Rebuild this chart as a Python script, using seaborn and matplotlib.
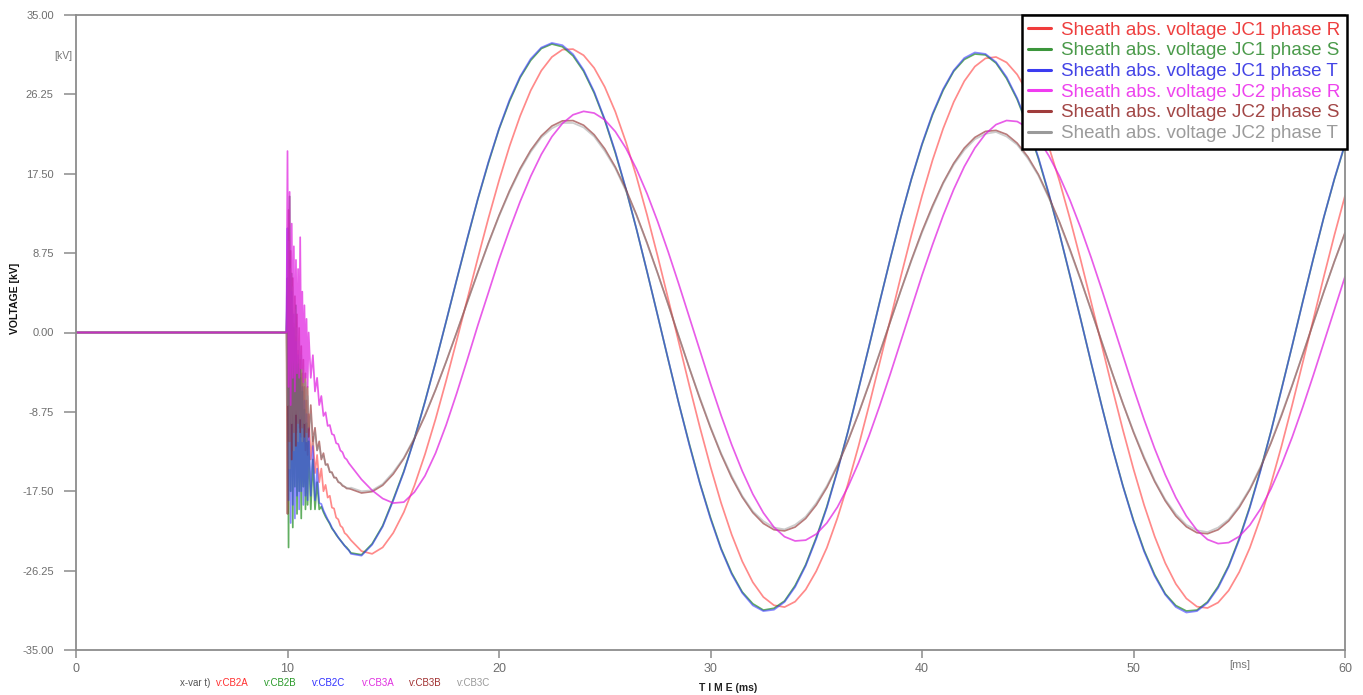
import numpy as np
import pandas as pd
import matplotlib
matplotlib.use("Agg")
import matplotlib.pyplot as plt
from matplotlib.lines import Line2D
import seaborn as sns

# ---------------- data (kV vs ms) ----------------
time_prefault = [0.0, 9.95]
time_transient = np.round(np.concatenate([np.arange(10.0, 11.0001, 0.05),
                                          np.arange(11.1, 12.9001, 0.1)]), 2)
time_steady = np.round(np.arange(13.0, 60.0001, 0.5), 2)

prefault = [0.0, 0.0]

jc1_r_transient = [4.0, -12.0, 6.0, -14.0, 2.5, -13.0, 1.0, -12.5, -0.5, -11.0, -2.0, -10.5, -3.0, -11.5,
                   -4.5, -12.0, -6.0, -13.0, -7.5, -13.5, -9.0,
                   -14.0, -11.5, -15.5, -13.5, -16.5, -15.0, -17.5, -16.8, -18.2, -18.0, -19.3, -19.4,
                   -20.4, -20.6, -21.3, -21.5, -22.1, -22.3, -22.6]
jc1_s_transient = [6.0, -23.7, 15.0, -17.5, 6.5, -21.5, 0.5, -17.0, 3.0, -20.0, -3.5, -17.5, -5.0, -20.5,
                   -6.5, -17.0, -8.5, -19.5, -10.0, -19.0, -12.0,
                   -19.5, -14.0, -19.5, -16.5, -19.5, -19.2, -19.8, -20.3, -20.7, -21.1, -21.6, -21.9,
                   -22.3, -22.6, -22.9, -23.2, -23.5, -23.7, -24.0]
jc1_t_transient = [11.5, -18.5, 8.0, -21.0, 4.5, -19.0, 2.0, -20.5, -1.0, -18.0, -2.5, -19.5, -4.0, -17.5,
                   -6.0, -19.0, -7.5, -18.0, -9.0, -18.5, -10.5,
                   -18.0, -12.5, -18.5, -15.0, -18.8, -18.9, -19.6, -20.1, -20.6, -21.0, -21.5, -21.9,
                   -22.2, -22.6, -22.9, -23.2, -23.5, -23.8, -24.0]
jc2_r_transient = [20.0, -6.0, 15.5, -8.0, 12.0, -5.0, 9.5, -6.5, 8.0, -4.5, 7.0, -5.0, 10.5, -4.0,
                   4.5, -5.5, 3.0, -5.0, 1.5, -6.0, 0.0,
                   -5.0, -2.5, -6.5, -5.0, -8.0, -7.0, -9.2, -8.8, -10.3, -10.2, -11.2, -11.3,
                   -12.2, -12.3, -13.0, -13.2, -13.8, -14.0, -14.4]
jc2_s_transient = [-20.0, 13.5, -12.0, 9.0, -14.0, 6.0, -11.0, 4.0, -12.5, 2.0, -10.0, 0.5, -11.0, -1.5,
                   -10.5, -3.0, -11.5, -4.5, -11.0, -6.0, -11.5,
                   -8.0, -12.0, -10.5, -13.0, -12.0, -14.0, -13.3, -14.6, -14.5, -15.4, -15.4, -16.0,
                   -16.0, -16.5, -16.6, -16.9, -17.0, -17.2, -17.2]
jc2_t_transient = [-8.0, 10.0, -15.0, 7.0, -10.0, 5.0, -13.0, 2.5, -9.0, 0.5, -12.0, -1.0, -9.5, -2.5,
                   -12.0, -4.0, -10.0, -5.5, -12.0, -7.0, -10.5,
                   -9.0, -12.5, -11.0, -13.0, -12.5, -13.8, -13.6, -14.5, -14.7, -15.3, -15.5, -15.9,
                   -16.1, -16.4, -16.6, -16.8, -17.0, -17.1, -17.2]

jc1_r_steady = [-22.9, -24.1, -24.4, -23.69, -22.09, -19.81, -16.88, -13.43, -9.55, -5.32,
                -0.88, 3.66, 8.20, 12.60, 16.74, 20.54, 23.87, 26.68, 28.86, 30.37,
                31.18, 31.24, 30.56, 29.16, 27.07, 24.34, 21.00, 17.18, 12.96, 8.43,
                3.70, -1.09, -5.86, -10.47, -14.80, -18.78, -22.27, -25.22, -27.53, -29.16,
                -30.07, -30.27, -29.67, -28.34, -26.31, -23.74, -20.46, -16.69, -12.51, -8.02,
                -3.33, 1.43, 6.17, 10.75, 15.06, 19.01, 22.48, 25.41, 27.71, 29.32,
                30.22, 30.37, 29.77, 28.44, 26.41, 23.74, 20.46, 16.69, 12.51, 8.02,
                3.33, -1.43, -6.17, -10.75, -15.06, -19.01, -22.48, -25.41, -27.71, -29.32,
                -30.22, -30.37, -29.77, -28.44, -26.41, -23.74, -20.46, -16.69, -12.51, -8.02,
                -3.33, 1.43, 6.17, 10.75, 15.06]
jc1_s_steady = [-24.3, -24.5, -23.3, -21.3, -18.4, -15.3, -11.7, -7.6, -3.3, 1.2,
                5.8, 10.3, 14.7, 18.7, 22.4, 25.5, 28.1, 30.0, 31.3, 31.8,
                31.5, 30.5, 28.8, 26.4, 23.4, 19.8, 15.8, 11.4, 6.7, 1.9,
                -3.0, -7.8, -12.3, -16.6, -20.4, -23.8, -26.5, -28.6, -29.9, -30.6,
                -30.4, -29.6, -27.9, -25.6, -22.6, -19.2, -15.2, -10.9, -6.2, -1.5,
                3.4, 8.1, 12.7, 16.9, 20.7, 24.0, 26.7, 28.8, 30.1, 30.7,
                30.6, 29.7, 28.0, 25.7, 22.7, 19.2, 15.2, 10.9, 6.2, 1.5,
                -3.4, -8.1, -12.7, -16.9, -20.7, -24.0, -26.7, -28.8, -30.1, -30.7,
                -30.6, -29.7, -28.0, -25.7, -22.7, -19.2, -15.2, -10.9, -6.2, -1.5,
                3.4, 8.1, 12.7, 16.9, 20.7]
jc1_t_steady = [-24.4, -24.6, -23.4, -21.4, -18.53, -15.39, -11.73, -7.66, -3.31, 1.24,
                5.84, 10.38, 14.75, 18.81, 22.48, 25.66, 28.23, 30.17, 31.41, 31.92,
                31.67, 30.68, 28.95, 26.55, 23.51, 19.92, 15.85, 11.41, 6.72, 1.87,
                -3.02, -7.81, -12.41, -16.68, -20.54, -23.90, -26.63, -28.71, -30.08, -30.71,
                -30.56, -29.71, -28.06, -25.73, -22.75, -19.32, -15.31, -10.92, -6.27, -1.46,
                3.39, 8.15, 12.72, 16.96, 20.80, 24.13, 26.84, 28.90, 30.26, 30.87,
                30.71, 29.81, 28.16, 25.83, 22.85, 19.32, 15.31, 10.92, 6.27, 1.46,
                -3.39, -8.15, -12.72, -16.96, -20.80, -24.13, -26.84, -28.90, -30.26, -30.87,
                -30.71, -29.81, -28.16, -25.83, -22.85, -19.32, -15.31, -10.92, -6.27, -1.46,
                3.39, 8.15, 12.72, 16.96, 20.80]
jc2_r_steady = [-14.7, -16.2, -17.4, -18.3, -18.8, -18.7, -17.6, -15.8, -13.3, -10.2,
                -6.7, -3.0, 0.8, 4.4, 8.04, 11.35, 14.44, 17.22, 19.63, 21.59,
                23.05, 24.00, 24.38, 24.19, 23.45, 22.15, 20.32, 18.02, 15.31, 12.24,
                8.89, 5.34, 1.67, -2.03, -5.65, -9.13, -12.36, -15.27, -17.81, -19.88,
                -21.46, -22.51, -22.98, -22.89, -22.22, -21.00, -19.25, -17.02, -14.37, -11.37,
                -8.07, -4.58, -0.95, 2.71, 6.30, 9.69, 12.89, 15.78, 18.29, 20.34,
                21.89, 22.92, 23.37, 23.26, 22.58, 21.34, 19.47, 17.23, 14.57, 11.55,
                8.24, 4.73, 1.10, -2.56, -6.15, -9.59, -12.79, -15.68, -18.19, -20.24,
                -21.79, -22.82, -23.27, -23.16, -22.48, -21.24, -19.47, -17.23, -14.57, -11.55,
                -8.24, -4.73, -1.10, 2.56, 6.15]
jc2_s_steady = [-17.27, -17.69, -17.54, -16.84, -15.60, -13.89, -11.72, -9.18, -6.32, -3.23,
                0.02, 3.36, 6.66, 9.87, 12.89, 15.64, 18.07, 20.09, 21.67, 22.76,
                23.33, 23.36, 22.85, 21.80, 20.25, 18.24, 15.79, 12.98, 9.88, 6.55,
                3.09, -0.44, -3.93, -7.32, -10.50, -13.42, -15.99, -18.14, -19.85, -21.05,
                -21.74, -21.87, -21.45, -20.50, -19.02, -17.09, -14.72, -11.98, -8.94, -5.68,
                -2.27, 1.20, 4.65, 8.00, 11.15, 13.98, 16.52, 18.65, 20.33, 21.51,
                22.17, 22.28, 21.84, 20.87, 19.38, 17.43, 14.94, 12.19, 9.14, 5.86,
                2.44, -1.05, -4.50, -7.85, -11.00, -13.88, -16.42, -18.55, -20.23, -21.41,
                -22.07, -22.18, -21.74, -20.77, -19.28, -17.33, -14.94, -12.19, -9.14, -5.86,
                -2.44, 1.05, 4.50, 7.85, 11.00]
jc2_t_steady = [-17.1, -17.5, -17.4, -16.7, -15.4, -13.8, -11.6, -9.1, -6.3, -3.2,
                0.0, 3.3, 6.6, 9.8, 12.8, 15.5, 17.9, 19.9, 21.5, 22.5,
                23.1, 23.1, 22.6, 21.6, 20.0, 18.1, 15.6, 12.9, 9.8, 6.5,
                3.1, -0.4, -3.9, -7.2, -10.4, -13.3, -15.8, -18.0, -19.7, -20.8,
                -21.5, -21.7, -21.2, -20.3, -18.8, -16.9, -14.6, -11.9, -8.9, -5.6,
                -2.2, 1.2, 4.6, 7.9, 11.0, 13.8, 16.4, 18.5, 20.1, 21.3,
                21.9, 22.1, 21.6, 20.7, 19.2, 17.3, 14.8, 12.1, 9.0, 5.8,
                2.4, -1.0, -4.5, -7.8, -10.9, -13.7, -16.3, -18.4, -20.0, -21.2,
                -21.8, -22.0, -21.5, -20.6, -19.1, -17.2, -14.8, -12.1, -9.0, -5.8,
                -2.4, 1.0, 4.5, 7.8, 10.9]

series_labels = ["Sheath abs. voltage JC1 phase R", "Sheath abs. voltage JC1 phase S",
                 "Sheath abs. voltage JC1 phase T", "Sheath abs. voltage JC2 phase R",
                 "Sheath abs. voltage JC2 phase S", "Sheath abs. voltage JC2 phase T"]
transients = [jc1_r_transient, jc1_s_transient, jc1_t_transient,
              jc2_r_transient, jc2_s_transient, jc2_t_transient]
steadies = [jc1_r_steady, jc1_s_steady, jc1_t_steady,
            jc2_r_steady, jc2_s_steady, jc2_t_steady]

y_ticks = [-35.0, -26.25, -17.5, -8.75, 0.0, 8.75, 17.5, 26.25, 35.0]
x_ticks = [0, 10, 20, 30, 40, 50, 60]
bottom_tags = ["x-var t)", "v:CB2A", "v:CB2B", "v:CB2C", "v:CB3A", "v:CB3B", "v:CB3C"]

# ---------------- build long table ----------------
rows = []
t_all = np.concatenate([time_prefault, time_transient, time_steady])
for lab, tr, st in zip(series_labels, transients, steadies):
    vals = np.concatenate([prefault, tr, st])
    assert len(vals) == len(t_all), (lab, len(vals), len(t_all))
    rows.append(pd.DataFrame({"t": t_all, "v": vals, "series": lab}))
df = pd.concat(rows, ignore_index=True)

# ---------------- style ----------------
sns.set_theme(style="white")
plt.rcParams['font.family'] = ['Liberation Sans', 'DejaVu Sans']

line_colors = ["#ff2a2a", "#1e8c1e", "#3a3aff", "#e01ee0", "#8c2323", "#8f8f8f"]
line_alpha = [0.55, 0.7, 0.6, 0.72, 0.6, 0.45]
legend_line_colors = ["#f03c3c", "#3c963c", "#3c3cf0", "#f03cf0", "#a03c3c", "#9a9a9a"]
legend_text_colors = ["#ee3f3f", "#4a9a4a", "#4444e6", "#ee44ee", "#a24646", "#9b9b9b"]
tag_colors = ["#555555", "#ff3030", "#2a9a2a", "#3030ff", "#e030e0", "#a03030", "#999999"]
order = [0, 1, 2, 4, 5, 3]

W, H = 1363, 695
fig = plt.figure(figsize=(W / 100, H / 100), dpi=100)
ax = fig.add_axes([76 / W, (H - 650) / H, (1345 - 76) / W, (650 - 15) / H])

for i in order:
    sub = df[df["series"] == series_labels[i]]
    sns.lineplot(data=sub, x="t", y="v", ax=ax, color=line_colors[i], alpha=line_alpha[i],
                 lw=1.25, estimator=None, sort=False, legend=False)

ax.set_xlim(0, 60)
ax.set_ylim(-35, 35)
ax.set_xticks(x_ticks)
ax.set_xticklabels([str(x) for x in x_ticks])
ax.set_yticks(y_ticks)
ax.set_yticklabels([f"{y:.2f}" for y in y_ticks])
ax.set_xlabel("")
ax.set_ylabel("")
for s in ax.spines.values():
    s.set_color("#8c8c8c")
    s.set_linewidth(1.3)
ax.tick_params(axis="y", direction="out", length=9, width=1.1, color="#8c8c8c",
               labelsize=8, labelcolor="#6e6e6e", pad=7, left=True)
ax.tick_params(axis="x", direction="out", length=6, width=1.1, color="#8c8c8c",
               labelsize=9, labelcolor="#6e6e6e", pad=3, bottom=True)
ax.grid(False)

handles = [Line2D([0], [0], color=c, lw=2.2) for c in legend_line_colors]
leg = ax.legend(handles, series_labels, loc="upper right", bbox_to_anchor=(1.0016, 1.0),
                frameon=True, fancybox=False, fontsize=13.5, handlelength=1.2,
                handletextpad=0.55, labelspacing=0.19, borderpad=0.35, borderaxespad=0)
leg.get_frame().set_edgecolor("black")
leg.get_frame().set_linewidth(1.8)
leg.get_frame().set_alpha(1)
for txt, c in zip(leg.get_texts(), legend_text_colors):
    txt.set_color(c)


def px(x, y):
    return x / W, 1 - y / H


fig.text(*px(15, 298), "VOLTAGE [kV]", rotation=90, fontsize=7.5, fontweight="bold",
         color="#111111", ha="center", va="center")
fig.text(*px(72, 56), "[kV]", fontsize=7.5, color="#777777", ha="right", va="center")
fig.text(*px(1240, 665), "[ms]", fontsize=8, color="#777777", ha="center", va="center")
fig.text(*px(728, 688), "T I M E (ms)", fontsize=7.5, fontweight="bold", color="#222222",
         ha="center", va="center")
tag_x = [180, 216, 264, 312, 362, 409, 457]
for x, tag, c in zip(tag_x, bottom_tags, tag_colors):
    fig.text(*px(x, 683), tag, fontsize=7, color=c, ha="left", va="center")

fig.savefig("out.png", dpi=100, facecolor="white")
